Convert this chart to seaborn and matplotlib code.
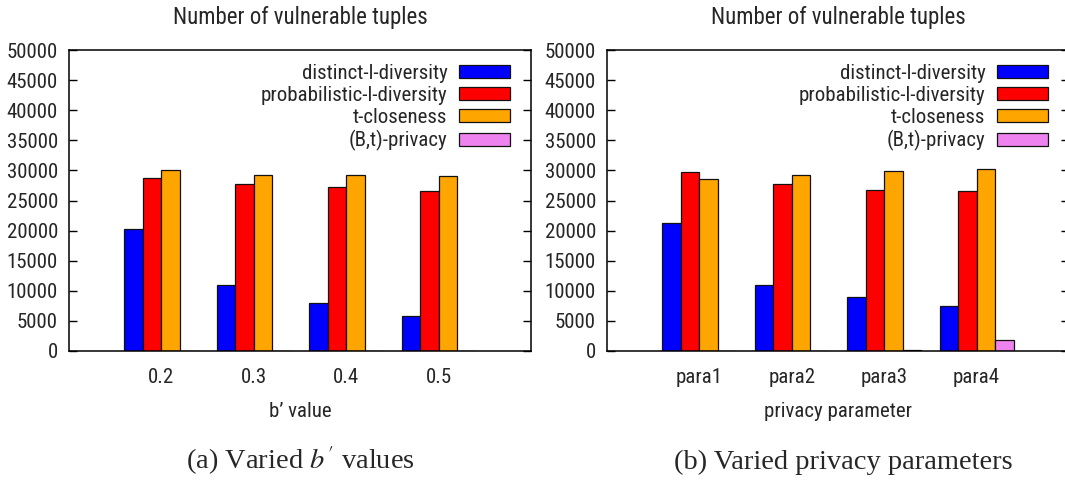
import matplotlib
matplotlib.use("Agg")
import matplotlib.pyplot as plt
from matplotlib import font_manager
import pandas as pd
import seaborn as sns

# ---- data -------------------------------------------------------------
methods = ["distinct-l-diversity", "probabilistic-l-diversity",
           "t-closeness", "(B,t)-privacy"]
colors = ["#0000ff", "#ff0000", "#ffa500", "#ee82ee"]

b_values = ["0.2", "0.3", "0.4", "0.5"]
b_distinct = [20300, 11000, 8050, 5830]
b_prob = [28670, 27750, 27280, 26560]
b_tclose = [30000, 29260, 29220, 29060]
b_bt = [50, 30, 60, 40]

params = ["para1", "para2", "para3", "para4"]
p_distinct = [21280, 11000, 8890, 7440]
p_prob = [29720, 27780, 26780, 26560]
p_tclose = [28610, 29280, 29830, 30170]
p_bt = [30, 20, 220, 1830]

yticks = list(range(0, 50001, 5000))

# ---- style ------------------------------------------------------------
sns.set_style("white")
installed = {f.name for f in font_manager.fontManager.ttflist}
sans = next((n for n in ["Roboto Condensed", "Archivo Narrow", "PT Sans Narrow"]
             if n in installed), "Liberation Sans")
plt.rcParams["font.family"] = [sans, "DejaVu Sans"]
plt.rcParams["mathtext.fontset"] = "stix"

FS = 15
W, H = 1065, 480


def long_form(groups, series):
    rows = []
    for name, vals in zip(methods, series):
        for g, v in zip(groups, vals):
            rows.append({"group": g, "method": name, "value": v})
    return pd.DataFrame(rows)


def panel(ax, groups, series, xlabel):
    df = long_form(groups, series)
    sns.barplot(data=df, x="group", y="value", hue="method",
                order=groups, hue_order=methods, palette=colors,
                saturation=1, width=0.8, errorbar=None,
                edgecolor="#111111", linewidth=0.9, ax=ax)
    ax.set_xlim(-1, 4)
    ax.set_ylim(0, 50000)
    ax.set_yticks(yticks)
    ax.set_yticklabels([str(t) for t in yticks], fontsize=FS)
    ax.set_xticks(range(len(groups)))
    ax.set_xticklabels(groups, fontsize=FS)
    ax.tick_params(axis="x", length=0, pad=12)
    ax.tick_params(axis="y", direction="in", length=5.5, width=1.0,
                   left=True, right=True, pad=8, color="black")
    ax.set_xlabel(xlabel, fontsize=FS, labelpad=11)
    ax.set_ylabel("")
    ax.set_title("Number of vulnerable tuples", fontsize=16.5, pad=19)
    for s in ax.spines.values():
        s.set_visible(True)
        s.set_color("black")
        s.set_linewidth(1.1)
    handles, labels = ax.get_legend_handles_labels()
    ax.legend(handles, labels, loc="upper right",
              bbox_to_anchor=(1 - 21 / 462, 1 - 14 / 301),
              frameon=False, markerfirst=False, fontsize=FS,
              handlelength=51 / 21, handleheight=12 / 21,
              handletextpad=12 / 21, labelspacing=0.15, borderpad=0,
              borderaxespad=0)


fig = plt.figure(figsize=(W / 100, H / 100), dpi=100)
ax1 = fig.add_axes([69 / W, 1 - 351 / H, 462 / W, 301 / H])
ax2 = fig.add_axes([607 / W, 1 - 351 / H, 462 / W, 301 / H])

panel(ax1, b_values, [b_distinct, b_prob, b_tclose, b_bt], "b\u2019 value")
panel(ax2, params, [p_distinct, p_prob, p_tclose, p_bt], "privacy parameter")

serif = ["Liberation Serif", "DejaVu Serif"]
fig.text(300 / W, 1 - 469 / H, r"(a) Varied $b'$ values", ha="center",
         va="baseline", fontsize=20.5, family=serif)
fig.text(843 / W, 1 - 469 / H, "(b) Varied privacy parameters", ha="center",
         va="baseline", fontsize=20.5, family=serif)

fig.savefig("out.png", dpi=100)
